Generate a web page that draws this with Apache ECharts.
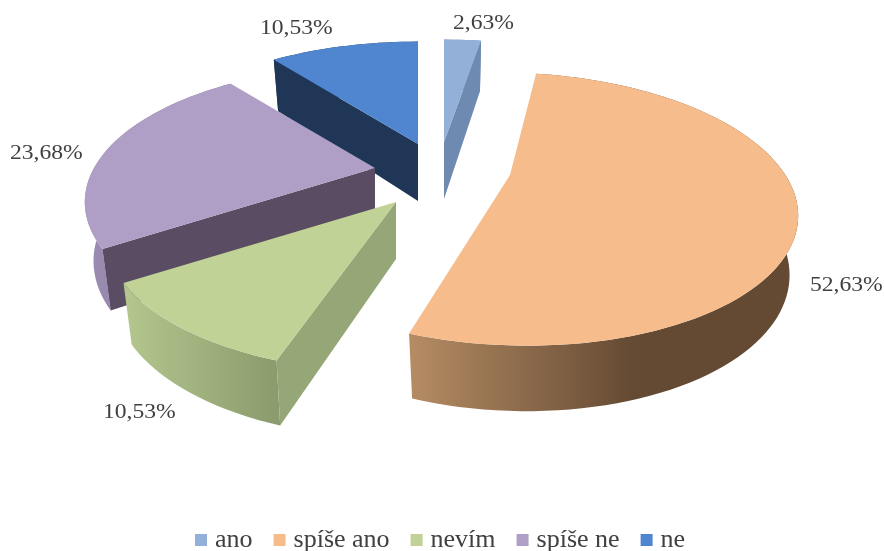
<!DOCTYPE html>
<html>
<head>
<meta charset="utf-8">
<style>html,body{margin:0;padding:0;background:#fff}#c{width:884px;height:551px}</style>
<script src="https://cdn.jsdelivr.net/npm/echarts@6/dist/echarts.min.js"></script>
</head>
<body>
<div id="c"></div>
<script>
var categories = ['ano', 'spíše ano', 'nevím', 'spíše ne', 'ne'];
var values = [2.63, 52.63, 10.53, 23.68, 10.53];
var topColors = ['#93B0D8', '#F6BC8C', '#C0D296', '#AF9FC6', '#4F86CF'];
var radialColors = ['#6F8AB0', '#B08A62', '#96A777', '#5A4C63', '#1F3657'];
var wallLeft = ['#6F8AB0', '#B58C64', '#B4C78E', '#9C8DB3', '#1F3657'];
var wallRight = ['#6F8AB0', '#644A33', '#8A9A6C', '#7E7096', '#1F3657'];
var wallStop = [1, 0.58, 1, 1, 1];
var visibleFace = ['end', 'none', 'start', 'start', 'start'];
var apexX = [444, 510, 396, 375, 418];
var apexY = [142, 175, 202, 168, 144];
var radiusScale = [1, 0.98, 1, 1, 1];
var shear = [0, -13, 0, 0, 0];
var drawOrder = [1, 5, 4, 3, 2];
var labelX = [453, 810, 103, 10, 260];
var labelY = [24, 286, 413, 154, 29];

var RX = 281, RY = 128, K = 0.25, DEPTH = 57, DK = 0.13, SHRINK = 0.97;
var total = values.reduce(function (a, b) { return a + b; }, 0);
var startAngles = [];
values.reduce(function (acc, v, i) { startAngles[i] = acc; return acc + v / total * 360; }, 0);

function project(i, deg, radius, lower) {
  var t = deg * Math.PI / 180;
  var X = Math.sin(t) * radius, Y = Math.cos(t) * radius;
  var w = 1 + K * Y;
  var dx = (RX * radiusScale[i] * X + shear[i] * Y) / w;
  var dy = -RY * Y / w;
  if (lower) {
    dx *= SHRINK;
    dy += DEPTH / (1 + DK * Y);
  }
  return [apexX[i] + dx, apexY[i] + dy];
}

function arc(i, a0, a1, lower) {
  var pts = [];
  var n = Math.max(2, Math.ceil(Math.abs(a1 - a0) / 2));
  for (var j = 0; j <= n; j++) pts.push(project(i, a0 + (a1 - a0) * j / n, 1, lower));
  return pts;
}

function radialFace(i, a) {
  return [project(i, a, 0, false), project(i, a, 1, false), project(i, a, 1, true), project(i, a, 0, true)];
}

function renderSlice(i) {
  var a0 = startAngles[i], a1 = a0 + values[i] / total * 360;
  var topArc = arc(i, a0, a1, false);
  var bottomArc = arc(i, a0, a1, true).reverse();
  var children = [{
    type: 'polygon', shape: { points: topArc.concat(bottomArc) },
    style: {
      fill: { type: 'linear', x: 0, y: 0, x2: 1, y2: 0, colorStops: [
        { offset: 0, color: wallLeft[i] },
        { offset: wallStop[i], color: wallRight[i] },
        { offset: 1, color: wallRight[i] }
      ] }
    }
  }];
  if (visibleFace[i] !== 'none') {
    children.push({
      type: 'polygon',
      shape: { points: radialFace(i, visibleFace[i] === 'start' ? a0 : a1) },
      style: { fill: radialColors[i] }
    });
  }
  children.push({
    type: 'polygon', shape: { points: [project(i, 0, 0, false)].concat(topArc) }, style: { fill: topColors[i] }
  }, {
    type: 'text', x: labelX[i], y: labelY[i], scaleX: 1.18,
    style: {
      text: values[i].toFixed(2).replace('.', ',') + '%',
      x: 0, y: 0, fill: '#404040', font: '20px "Liberation Serif"',
      align: 'left', verticalAlign: 'middle'
    }
  });
  return { type: 'group', children: children };
}

var series = categories.map(function (name, i) {
  return {
    type: 'custom', name: name, coordinateSystem: 'none', z: drawOrder[i] + 1,
    silent: true, animation: false,
    itemStyle: { color: topColors[i] },
    data: [values[i]],
    renderItem: function () { return renderSlice(i); }
  };
});

var chart = echarts.init(document.getElementById('c'), null, { renderer: 'canvas' });
chart.setOption({
  animation: false,
  backgroundColor: '#ffffff',
  legend: {
    data: categories, left: 195, top: 527, icon: 'rect',
    itemWidth: 12, itemHeight: 12, itemGap: 21, padding: 0,
    selectedMode: false,
    textStyle: { fontFamily: 'Liberation Serif', fontSize: 26, color: '#404040', padding: [0, 0, 0, 3] }
  },
  series: series
});
</script>
</body>
</html>
